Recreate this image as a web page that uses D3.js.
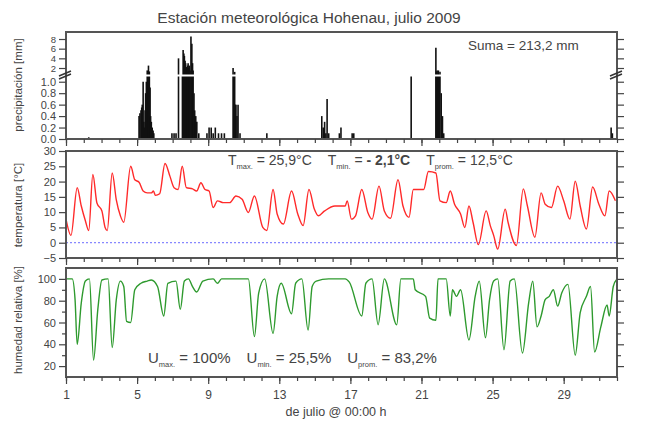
<!DOCTYPE html>
<html>
<head>
<meta charset="utf-8">
<script src="https://cdn.jsdelivr.net/npm/d3@7"></script>
<style>
  body { margin: 0; background: #fff; }
  svg text { font-family: "Liberation Sans", Arial, sans-serif; fill: #444; }
</style>
</head>
<body>
<div id="chart"></div>
<script>
// precipitation bars (day of july, mm)
var precipDays = [2.28, 5.11, 5.16, 5.22, 5.26, 5.29, 5.34, 5.38, 5.41, 5.45, 5.48, 5.52, 5.57, 5.61, 5.64, 5.69, 5.73, 5.76, 5.80, 5.85, 5.90, 5.94,
    6.96, 7.08, 7.19, 7.33, 7.55, 7.59, 7.63, 7.66, 7.70, 7.73, 7.77, 7.80, 7.84, 7.87, 7.91, 7.94, 7.98, 8.03, 8.08, 8.12, 8.15, 8.20, 8.24, 8.30, 8.36, 8.47,
    8.93, 9.05, 9.17, 9.28, 9.40, 9.58, 9.75, 9.91,
    10.40, 10.44, 10.49, 10.53, 10.56, 10.62, 10.68, 10.79, 12.30,
    15.39, 15.47, 15.55, 15.62, 15.69, 15.78, 16.38, 16.47, 17.10, 17.19,
    20.42, 21.81, 21.85, 21.88, 21.92, 21.95, 22.00, 22.04, 22.11, 22.18, 22.25, 31.67, 31.74];
var precipValues = [0.03, 0.4, 0.45, 0.5, 0.55, 0.6, 1.0, 0.3, 0.2, 0.5, 0.8, 1.0, 1.5, 1.1, 2.5, 1.3, 0.9, 0.4, 0.3, 0.2, 0.15, 0.1,
    0.1, 0.1, 0.1, 4.0, 1.1, 5.7, 5.0, 4.5, 3.5, 3.0, 2.2, 2.0, 2.5, 3.0, 2.0, 2.5, 1.5, 8.5, 7.0, 3.0, 1.5, 0.8, 0.5, 0.4, 0.3, 0.1,
    0.1, 0.2, 0.2, 0.1, 0.2, 0.1, 0.1, 0.1,
    2.0, 1.1, 1.2, 0.6, 0.6, 0.4, 0.6, 0.1, 0.1,
    0.4, 0.2, 0.3, 0.1, 0.7, 0.1, 0.1, 0.2, 0.1, 0.1,
    1.1, 6.2, 1.3, 1.5, 1.1, 1.5, 1.1, 1.2, 0.8, 0.4, 0.1, 0.2, 0.1];

// temperature (day of july, °C)
var tempDays = [1.00, 1.28, 1.63, 1.86, 2.09, 2.28, 2.51, 2.74, 3.02, 3.20, 3.32, 3.60, 3.83, 4.06, 4.25, 4.64, 4.87, 5.11, 5.34, 5.57, 5.80, 5.92, 6.03, 6.27,
    6.57, 6.85, 7.08, 7.31, 7.54, 7.77, 8.12, 8.35, 8.59, 8.82, 9.05, 9.28, 9.52, 9.86, 10.21, 10.56, 10.91, 11.26, 11.60, 12.07, 12.30,
    12.65, 12.88, 13.23, 13.69, 14.04, 14.34, 14.67, 14.97, 15.20, 15.55, 16.13, 16.71, 16.82, 17.06, 17.29, 17.64, 17.98, 18.22,
    18.61, 18.91, 19.26, 19.68, 19.96, 20.30, 20.54, 21.12, 21.39, 21.81, 22.04, 22.39, 22.62, 22.86, 23.20, 23.44, 23.67, 23.90,
    24.20, 24.64, 24.87, 25.06, 25.29, 25.71, 25.87, 26.34, 26.73, 26.96, 27.38, 27.73, 27.96, 28.31, 28.66, 29.00, 29.35,
    29.65, 29.93, 30.28, 30.63, 30.98, 31.32, 31.56, 31.91];
var tempValues = [7.7, 2.4, 18, 12, 7.2, 4, 22.3, 13, 10.4, 5, 4, 22.8, 14, 8.8, 6.7, 25, 20.6, 19.8, 16.9, 16.3, 16.3, 16.9, 15.5, 16,
    25.9, 21.7, 18, 17.4, 25, 18, 17.6, 16.9, 19.6, 17.4, 16.9, 11.5, 13.7, 13.1, 13.1, 15.3, 14.2, 9.9, 15.3, 5, 4,
    17.4, 9.4, 6.1, 16.9, 9.4, 5.6, 17.4, 11, 8.8, 10.4, 12, 12, 13.7, 7.7, 8.8, 17.4, 9.9, 7.7,
    18.5, 10.4, 8, 20.6, 12, 8.3, 17.4, 17.4, 23.3, 22.8, 13.7, 13.1, 16.9, 12.6, 9.4, 5, 12, 6.7,
    -0.6, 10.4, 5.6, 2.4, -2.1, 11, 6.7, -0.9, 17.6, 12, 1.8, 16.3, 12.6, 11.5, 18.5, 13.7, 7.7,
    20.1, 12, 4.5, 18.2, 12.6, 8.8, 16.9, 13.7];

// relative humidity (day of july, %)
var humDays = [1.00, 1.35, 1.51, 1.63, 1.86, 2.09, 2.32, 2.55, 2.79, 3.02, 3.37, 3.60, 3.83, 4.06, 4.25, 4.41, 4.64, 4.87, 5.22, 5.57, 5.80, 6.15, 6.50,
    6.73, 7.19, 7.43, 7.66, 7.89, 8.12, 8.35, 8.70, 9.28, 9.52, 9.75, 11.26, 11.60, 11.84, 12.18, 12.65, 12.88, 13.11, 13.69, 13.92,
    14.27, 14.62, 14.85, 15.08, 15.78, 16.71, 16.94, 17.64, 17.87, 18.22, 18.56, 18.91, 19.61, 19.84, 20.54, 20.65, 21.23, 21.46, 21.81,
    21.93, 22.39, 22.62, 22.74, 22.97, 23.20, 23.67, 24.02, 24.25, 24.60, 24.83, 25.06, 25.29, 25.64, 25.99, 26.22, 26.68, 27.03,
    27.26, 27.50, 27.73, 27.96, 28.19, 28.42, 28.66, 28.89, 29.24, 29.65, 29.93, 30.28, 30.51, 30.74, 31.09, 31.44, 31.56, 31.79, 32.0];
var humValues = [100, 100, 81, 40, 78, 98, 100, 25.5, 72, 99, 100, 37, 81, 98, 93, 61, 60, 90, 96, 98, 99, 93, 66,
    96, 98, 72, 98, 100, 93, 88, 98, 100, 96, 100, 100, 47, 87, 100, 50, 84, 96, 68, 96,
    100, 53, 93, 98, 100, 100, 97, 66, 96, 100, 58, 100, 58, 100, 100, 90, 84, 64, 62,
    100, 100, 66, 90, 84, 90, 44, 84, 98, 46, 81, 98, 100, 35, 98, 100, 32, 78,
    98, 56, 66, 81, 84, 90, 75, 87, 95, 30, 69, 84, 93, 33, 56, 76, 66, 93, 100];

var dayTicks = d3.range(1, 33);
var dayLabels = [1, 5, 9, 13, 17, 21, 25, 29];
var precipLowTicks = [0, 0.2, 0.4, 0.6, 0.8, 1.0];
var precipHighTicks = [2, 4, 6, 8];
var tempTicks = [-5, 0, 5, 10, 15, 20, 25, 30];
var humTicks = [20, 40, 60, 80, 100];
var humMinor = [30, 50, 70, 90];

var svg = d3.select("#chart").append("svg")
    .attr("width", 645)
    .attr("height", 423);

var x = d3.scaleLinear().domain([1, 32]).range([66, 617]);

// the precipitation axis is broken at 1.1 mm
var yLow = d3.scaleLinear().domain([0, 1.1]).range([139, 76]);
var yHigh = d3.scaleLinear().domain([0.76, 9.45]).range([74, 32]);
var yT = d3.scaleLinear().domain([-5, 30]).range([258, 151]);
var yH = d3.scaleLinear().domain([10, 110]).range([377, 268]);

var panels = [
    {top: 32, bottom: 139},
    {top: 151, bottom: 258},
    {top: 268, bottom: 377}
];

function styleAxis(size) {
    return function(g) {
        g.select(".domain").remove();
        g.selectAll("line").attr("stroke", "#444").attr("stroke-width", 1.2);
        g.selectAll("text").style("font-size", size || "11px").attr("fill", "#444");
    };
}

// --- precipitation bars
var bars = svg.append("g");
precipDays.forEach(function(d, i) {
    var v = precipValues[i];
    var yTop = v <= 1.1 ? yLow(v) : yHigh(v);
    bars.append("line")
        .attr("x1", x(d)).attr("x2", x(d))
        .attr("y1", yLow(0)).attr("y2", yTop)
        .attr("stroke", "#111")
        .attr("stroke-width", 1.6);
});
// white gap at the break
svg.append("rect").attr("x", 67).attr("y", 74.5).attr("width", 549).attr("height", 2).attr("fill", "#fff");

// --- temperature
svg.append("line")
    .attr("x1", x(1)).attr("x2", x(32))
    .attr("y1", yT(0)).attr("y2", yT(0))
    .attr("stroke", "#6a6aff")
    .attr("stroke-width", 1)
    .attr("stroke-dasharray", "2,2");

var tLine = d3.line().curve(d3.curveMonotoneX)
    .x(function(d) { return x(d[0]); }).y(function(d) { return yT(d[1]); });
svg.append("path")
    .datum(d3.zip(tempDays, tempValues))
    .attr("d", tLine)
    .attr("fill", "none")
    .attr("stroke", "#ff2a2a")
    .attr("stroke-width", 1.4);

// --- humidity
var hLine = d3.line().curve(d3.curveMonotoneX)
    .x(function(d) { return x(d[0]); }).y(function(d) { return yH(d[1]); });
svg.append("path")
    .datum(d3.zip(humDays, humValues))
    .attr("d", hLine)
    .attr("fill", "none")
    .attr("stroke", "#2e9a2e")
    .attr("stroke-width", 1.4);

// --- frames and axes
panels.forEach(function(p, i) {
    svg.append("rect")
        .attr("x", 66).attr("y", p.top)
        .attr("width", 617 - 66).attr("height", p.bottom - p.top)
        .attr("fill", "none")
        .attr("stroke", "#555")
        .attr("stroke-width", 2);

    svg.append("g").attr("transform", "translate(0," + p.bottom + ")")
        .call(d3.axisBottom(x).tickValues(dayTicks).tickSize(4).tickFormat(""))
        .call(styleAxis());
    svg.append("g").attr("transform", "translate(0," + p.bottom + ")")
        .call(d3.axisBottom(x).tickValues(dayLabels).tickSize(7).tickPadding(6)
            .tickFormat(i == 2 ? d3.format("d") : ""))
        .call(styleAxis("12px"));
});

// y axes, left with labels and right without
[[66, d3.axisLeft], [617, d3.axisRight]].forEach(function(s, k) {
    svg.append("g").attr("transform", "translate(" + s[0] + ",0)")
        .call(s[1](yLow).tickValues(precipLowTicks).tickSize(7).tickPadding(3)
            .tickFormat(k == 0 ? d3.format(".1f") : ""))
        .call(styleAxis());
    svg.append("g").attr("transform", "translate(" + s[0] + ",0)")
        .call(s[1](yHigh).tickValues(precipHighTicks).tickSize(7).tickPadding(3)
            .tickFormat(k == 0 ? d3.format("d") : ""))
        .call(styleAxis("9.5px"));
    svg.append("g").attr("transform", "translate(" + s[0] + ",0)")
        .call(s[1](yT).tickValues(tempTicks).tickSize(7).tickPadding(3)
            .tickFormat(k == 0 ? d3.format("d") : ""))
        .call(styleAxis());
    svg.append("g").attr("transform", "translate(" + s[0] + ",0)")
        .call(s[1](yH).tickValues(humTicks).tickSize(7).tickPadding(3)
            .tickFormat(k == 0 ? d3.format("d") : ""))
        .call(styleAxis());
    svg.append("g").attr("transform", "translate(" + s[0] + ",0)")
        .call(s[1](yH).tickValues(humMinor).tickSize(4).tickFormat(""))
        .call(styleAxis());
});

// break marks on the precipitation axes
[66, 617].forEach(function(bx) {
    [-1.5, 1.5].forEach(function(off) {
        svg.append("line")
            .attr("x1", bx - 7).attr("x2", bx + 5)
            .attr("y1", 76 + off + 1.5).attr("y2", 74 + off - 1.5)
            .attr("stroke", "#333").attr("stroke-width", 1.5);
    });
});

// --- texts
svg.append("text").attr("x", 309).attr("y", 23).attr("text-anchor", "middle")
    .style("font-size", "15.5px").text("Estación meteorológica Hohenau, julio 2009");

var yTitles = [["precipitación [mm]", 85], ["temperatura [°C]", 205], ["humedad relativa [%]", 320]];
yTitles.forEach(function(t) {
    svg.append("text")
        .attr("transform", "translate(22," + t[1] + ") rotate(-90)")
        .attr("text-anchor", "middle")
        .style("font-size", "11.5px")
        .text(t[0]);
});

svg.append("text").attr("x", 336).attr("y", 416).attr("text-anchor", "middle")
    .style("font-size", "12.5px").text("de julio @ 00:00 h");

svg.append("text").attr("x", 468).attr("y", 50).style("font-size", "13.5px").text("Suma = 213,2 mm");

function statText(x0, y0, letter, parts, size, gap) {
    var t = svg.append("text").attr("x", x0).attr("y", y0).style("font-size", size);
    parts.forEach(function(p, i) {
        t.append("tspan").attr("dx", i == 0 ? 0 : gap).text(letter);
        t.append("tspan").attr("dy", 4).style("font-size", "7.5px").text(p[0]);
        t.append("tspan").attr("dy", -4).text(" = ");
        t.append("tspan").style("font-weight", p[2] ? "bold" : "normal").text(p[1]);
    });
}
statText(228, 165, "T", [["max.", "25,9°C"], ["min.", "- 2,1°C", true], ["prom.", "12,5°C"]], "14px", 16);
statText(148, 363, "U", [["max.", "100%"], ["min.", "25,5%"], ["prom.", "83,2%"]], "15px", 16);
</script>
</body>
</html>
